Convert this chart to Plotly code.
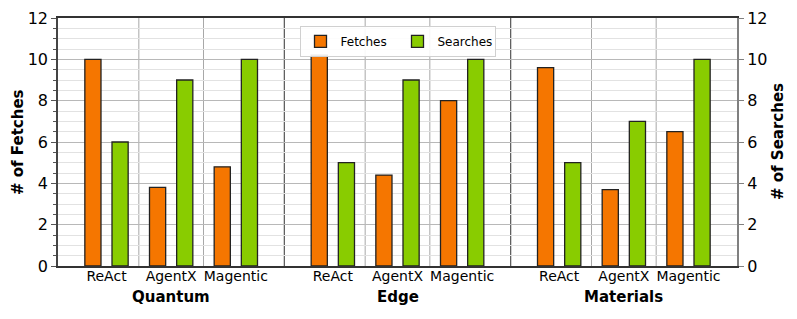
import plotly.graph_objects as go

groups = ["Quantum", "Edge", "Materials"]
categories = ["ReAct", "AgentX", "Magentic"]
fetches = [
    [10.0, 3.8, 4.8],
    [10.2, 4.4, 8.0],
    [9.6, 3.7, 6.5],
]
searches = [
    [6.0, 9.0, 10.0],
    [5.0, 9.0, 10.0],
    [5.0, 7.0, 10.0],
]
yticks = [0, 2, 4, 6, 8, 10, 12]

ORANGE = "#f57600"
GREEN = "#89cc00"
FONT = "DejaVu Sans"

GROUP_W = 3.5
CAT_START = 0.75
OFF = 0.21
BW = 0.25

xc, xlab = [], []
xf, yf, xs, ys = [], [], [], []
for g, gname in enumerate(groups):
    for c, cname in enumerate(categories):
        x = g * GROUP_W + CAT_START + c
        xc.append(x)
        xlab.append(cname)
        xf.append(x - OFF)
        yf.append(fetches[g][c])
        xs.append(x + OFF)
        ys.append(searches[g][c])

fig = go.Figure()
fig.add_trace(go.Bar(x=xf, y=yf, width=BW, name="Fetches",
                     marker=dict(color=ORANGE, line=dict(color="#222222", width=1.3)),
                     yaxis="y"))
fig.add_trace(go.Bar(x=xs, y=ys, width=BW, name="Searches",
                     marker=dict(color=GREEN, line=dict(color="#222222", width=1.3)),
                     yaxis="y2"))

shapes = []
for g in range(len(groups)):
    for c in range(1, len(categories)):
        xv = g * GROUP_W + CAT_START + c - 0.5
        shapes.append(dict(type="line", xref="x", yref="paper", x0=xv, x1=xv, y0=0, y1=1,
                           line=dict(color="#a8a8a8", width=1), layer="below"))
    if g > 0:
        xv = g * GROUP_W
        shapes.append(dict(type="line", xref="x", yref="paper", x0=xv, x1=xv, y0=0, y1=1,
                           line=dict(color="#555555", width=1.2), layer="below"))

PW, PH = 679, 248
annotations = []
for g, gname in enumerate(groups):
    annotations.append(dict(text="<b>" + gname + "</b>", x=g * GROUP_W + CAT_START + 1,
                            xref="x", y=-31 / PH, yref="paper", yanchor="middle", showarrow=False,
                            font=dict(family=FONT, size=15, color="black")))
annotations.append(dict(text="<b># of Fetches</b>", x=-40 / PW, xref="paper", xanchor="center",
                        y=0.5, yref="paper", yanchor="middle", textangle=-90, showarrow=False,
                        font=dict(family=FONT, size=15, color="black")))
annotations.append(dict(text="<b># of Searches</b>", x=(778 - 58) / PW, xref="paper",
                        xanchor="center", y=0.5, yref="paper", yanchor="middle", textangle=-90,
                        showarrow=False, font=dict(family=FONT, size=15, color="black")))

fig.update_layout(
    width=789, height=311,
    margin=dict(l=50, r=60, t=10, b=53, autoexpand=False),
    paper_bgcolor="white", plot_bgcolor="white",
    barmode="overlay",
    font=dict(family=FONT, color="black"),
    shapes=shapes,
    annotations=annotations,
    legend=dict(orientation="h", x=0.5, xanchor="center", y=0.968, yanchor="top",
                bgcolor="rgba(255,255,255,0.9)", bordercolor="#d0d0d0", borderwidth=1,
                font=dict(family=FONT, size=12), entrywidth=52, itemwidth=30,
                tracegroupgap=0),
    xaxis=dict(range=[0, GROUP_W * len(groups)], tickvals=xc, ticktext=xlab,
               tickfont=dict(family=FONT, size=14), ticks="outside", ticklen=0,
               ticklabelstandoff=-4,
               tickcolor="rgba(0,0,0,0)", showgrid=False, automargin=False,
               showline=True, linecolor="#333333", linewidth=1.5, mirror=True, zeroline=False),
    yaxis=dict(range=[0, 12], tickvals=yticks, tickfont=dict(family=FONT, size=16),
               automargin=False,
               showgrid=True, gridcolor="#b8b8b8", gridwidth=1,
               minor=dict(dtick=0.5, showgrid=True, gridcolor="#e2e2e2", gridwidth=1,
                          ticks="outside", ticklen=3, tickcolor="#555555"),
               ticks="outside", ticklen=5, tickcolor="#555555",
               showline=True, linecolor="#444444", linewidth=1.5, zeroline=False),
    yaxis2=dict(range=[0, 12], tickvals=yticks, tickfont=dict(family=FONT, size=16),
                automargin=False,
                overlaying="y", side="right", showgrid=False,
                ticks="outside", ticklen=5, tickcolor="#808080",
                showline=True, linecolor="#808080", linewidth=2, zeroline=False),
)

fig.write_html("out.html")
